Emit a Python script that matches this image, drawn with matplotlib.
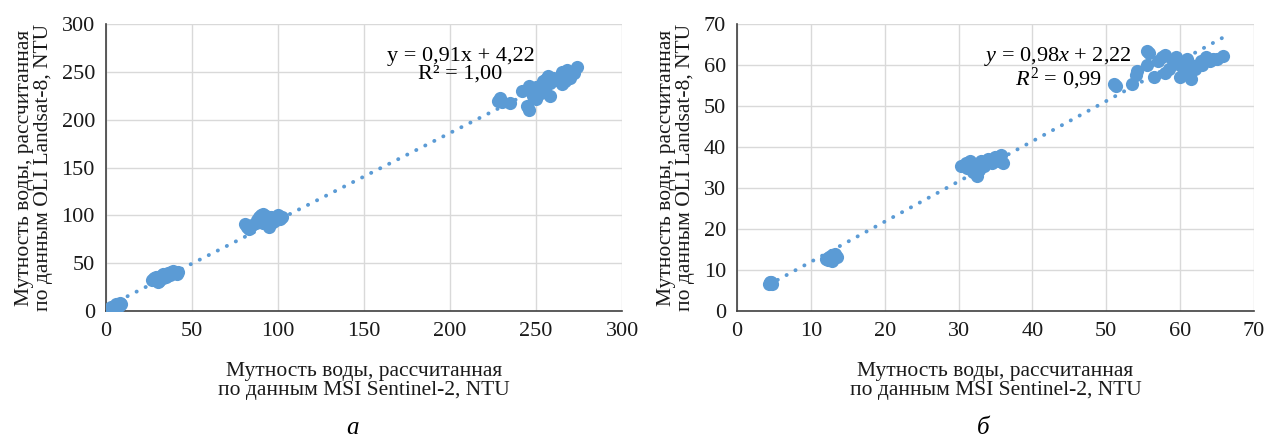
import numpy as np
import matplotlib.pyplot as plt

plt.rcParams['font.family'] = ['Liberation Serif', 'DejaVu Serif']
plt.rcParams['mathtext.fontset'] = 'custom'
plt.rcParams['mathtext.rm'] = 'Liberation Serif'
plt.rcParams['mathtext.it'] = 'Liberation Serif:italic'

# --- data ---
# panel a
a_x = [2, 3, 2.5, 3, 7, 8, 7.5, 6, 8.5, 3,
       27, 28, 29, 30, 30, 31, 32, 33, 34, 35, 36, 37, 38, 39, 40, 41, 42, 29, 31, 33, 35,
       81, 82, 83, 85, 87, 88, 89, 90, 91, 92, 93, 94, 95, 96, 97, 98, 99, 100, 101, 102, 91, 93, 96,
       228, 229, 230, 235, 242, 245, 246, 246, 248, 250, 250, 252, 254, 255, 256, 257, 258, 258,
       260, 262, 263, 264, 265, 265, 266, 268, 269, 270, 272, 274, 267, 253]
a_y = [2, 3, 1.5, 4, 6, 8, 5, 7, 7, 2,
       33, 35, 34, 36, 30, 32, 37, 35, 38, 36, 40, 38, 41, 42, 40, 39, 41, 36, 34, 39, 39,
       91, 88, 86, 90, 92, 95, 98, 100, 92, 97, 96, 91, 88, 95, 93, 97, 95, 100, 96, 98, 101, 99, 98,
       220, 223, 219, 217, 230, 214, 210, 235, 225, 222, 234, 230, 240, 236, 243, 246, 238, 225,
       244, 242, 244, 240, 237, 250, 246, 252, 248, 244, 249, 255, 240, 228]
a_coef = (0.91, 4.22)
a_eq = ['y = 0,91x + 4,22', 'R² = 1,00']

# panel б
b_x = [4.5, 4.3, 4.6, 4.8, 4.4,
       12, 12.3, 12.6, 12.9, 13.1, 13.3, 13.5, 12.8, 13.0, 12.5,
       30.3, 31, 31.5, 31.8, 32, 32.5, 32.8, 33, 33.5, 34, 34.5, 35, 35.5, 35.8, 36, 31.2, 33.2,
       51, 51.3, 53.5, 54, 54.2, 55.5, 55.8, 55.5, 56.5, 57, 57.5, 58, 58, 58.5, 59, 59.5, 60,
       60, 60.5, 61, 61.5, 61.5, 62, 62.5, 63, 63.5, 64, 64.5, 65, 65.8, 60.8, 62.8]
b_y = [6.8, 6.6, 7.0, 6.5, 7.1,
       12.8, 12.5, 13, 12.2, 13.5, 14, 13.2, 13.8, 12.7, 13.3,
       35.5, 36, 36.5, 35, 34, 33, 34.5, 36.5, 35.5, 37, 36, 37.5, 36.5, 38, 36.2, 34.8, 35.8,
       55.5, 55, 55.5, 57.5, 58.5, 63.5, 63, 60, 57, 61, 62, 58, 62.5, 59, 61, 62, 60,
       57, 58.5, 61.5, 56.5, 60, 59, 60, 60, 62, 61, 61.5, 61.5, 62.3, 59.5, 61]
b_coef = (0.98, 2.22)
b_eq = ['$y$ = 0,98$x$ + 2,22', '$R^2$ = 0,99']

xlabel = 'Мутность воды, рассчитанная\nпо данным MSI Sentinel-2, NTU'
ylabel = 'Мутность воды, рассчитанная\nпо данным OLI Landsat-8, NTU'

BLUE = '#5B9BD5'

fig = plt.figure(figsize=(12.67, 4.37), dpi=100)
ax1 = fig.add_axes([0.0837, 0.288, 0.4073, 0.657])
ax2 = fig.add_axes([0.5817, 0.288, 0.4080, 0.657])


def draw(ax, xs, ys, coef, eq, xmax, ymax, step, eq_pos):
    ax.scatter(xs, ys, s=90, color=BLUE, zorder=3, linewidths=0)
    xl = np.array([min(xs), max(xs)])
    ax.plot(xl, coef[0] * xl + coef[1], color=BLUE, lw=2.8,
            linestyle=(0, (0.05, 2.55)), dash_capstyle='round', zorder=4)
    ax.set_xlim(0, xmax)
    ax.set_ylim(0, ymax)
    ax.set_xticks(np.arange(0, xmax + 1, step))
    ax.set_yticks(np.arange(0, ymax + 1, step))
    ax.grid(True, color='#D9D9D9', lw=1.0)
    ax.set_axisbelow(True)
    for s in ['top', 'right']:
        ax.spines[s].set_visible(False)
    for s in ['left', 'bottom']:
        ax.spines[s].set_color('#404040')
        ax.spines[s].set_linewidth(1.2)
    ax.tick_params(length=0, labelsize=16, colors='#1a1a1a', pad=8)
    ax.set_xlabel(xlabel, fontsize=15.5, labelpad=15, color='#1a1a1a', linespacing=1.0)
    ax.set_ylabel(ylabel, fontsize=15.5, labelpad=6, color='#1a1a1a', linespacing=1.0)
    ax.text(eq_pos[0], eq_pos[1], eq[0] + '\n' + eq[1], fontsize=16,
            ha='center', va='center', linespacing=0.9, zorder=5)


draw(ax1, a_x, a_y, a_coef, a_eq, 300, 300, 50, (206, 257))
draw(ax2, b_x, b_y, b_coef, b_eq, 70, 70, 10, (43.5, 59.2))

fig.text(0.278, 0.008, 'а', fontsize=18, style='italic', ha='center')
fig.text(0.776, 0.008, 'б', fontsize=18, style='italic', ha='center')

fig.savefig('out.png', dpi=100)
